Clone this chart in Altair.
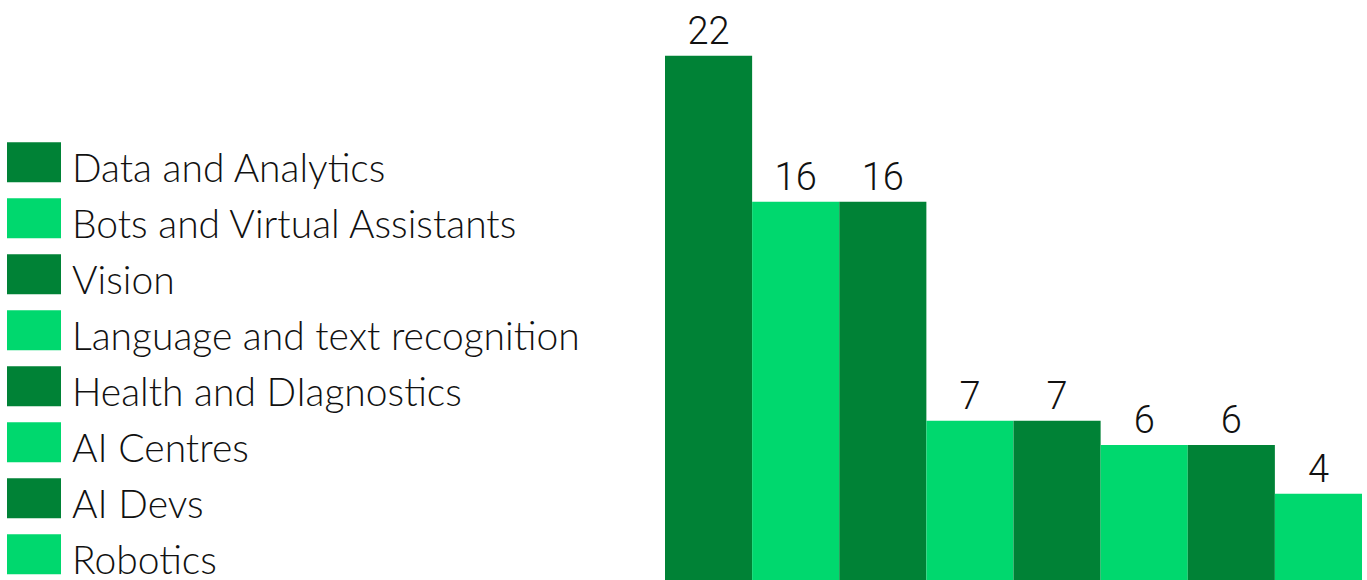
import altair as alt
import pandas as pd

categories = ["Data and Analytics", "Bots and Virtual Assistants", "Vision",
              "Language and text recognition", "Health and DIagnostics",
              "AI Centres", "AI Devs", "Robotics"]
values = [22, 16, 16, 7, 7, 6, 6, 4]
colors = ["#008236", "#00D86E", "#008236", "#00D86E",
          "#008236", "#00D86E", "#008236", "#00D86E"]

df = pd.DataFrame({"category": categories, "value": values})

x = alt.X("category:N", sort=categories, axis=None,
          scale=alt.Scale(paddingInner=0, paddingOuter=0))
y = alt.Y("value:Q", axis=None, scale=alt.Scale(domain=[0.45, 24.29], nice=False, zero=False))

bars = alt.Chart(df).mark_bar(clip=True).encode(
    x=x, y=y,
    color=alt.Color("category:N", sort=categories,
                    scale=alt.Scale(domain=categories, range=colors),
                    legend=alt.Legend(
                        title=None, orient="none", legendX=-658, legendY=143,
                        symbolType="M-1,-1.03L1,-1.03L1,0.45L-1,0.45Z",
                        symbolSize=2916, symbolStrokeWidth=0, symbolOpacity=1,
                        labelFontSize=39, labelFont="Lato", labelFontWeight=300,
                        labelColor="#111111",
                        labelOffset=11, rowPadding=8, padding=0,
                        labelLimit=700)),
)

labels = alt.Chart(df).mark_text(dy=-4, baseline="bottom", fontSize=38,
                                 font="Roboto", fontWeight=300, color="#111111").encode(
    x=x, y=y, text="value:Q")

chart = (bars + labels).properties(
    width=697, height=580,
    padding={"left": 665, "top": 0, "right": 5, "bottom": 0},
    autosize=alt.AutoSizeParams(type="none"),
).configure_view(stroke=None)

chart.save("out.html", embed_options={"renderer": "svg", "actions": False})
